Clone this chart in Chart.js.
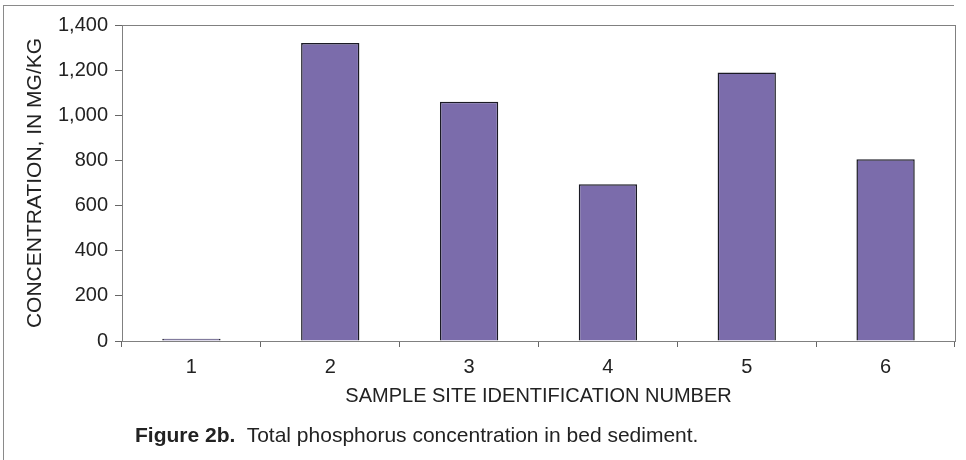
<!DOCTYPE html>
<html>
<head>
<meta charset="utf-8">
<script src="https://cdn.jsdelivr.net/npm/chart.js@4"></script>
<style>
  html, body { margin: 0; padding: 0; background: #fff; }
  #wrap { position: relative; width: 966px; height: 460px; }
  #frame { position: absolute; left: 3px; top: 5px; width: 950px; height: 460px;
           border-left: 1px solid #8a8a8a; border-top: 1px solid #8a8a8a; }
  #cap { position: absolute; left: 135px; top: 423px; font: 21px "Liberation Sans", Arial, sans-serif; color: #222; white-space: pre; }
</style>
</head>
<body>
<div id="wrap">
  <div id="frame"></div>
  <canvas id="c" width="966" height="460"></canvas>
  <div id="cap"><b>Figure 2b.</b>  Total phosphorus concentration in bed sediment.</div>
</div>
<script>
// sample sites and total phosphorus (mg/kg)
const sites = ['1', '2', '3', '4', '5', '6'];
const phosphorus = [10, 1320, 1060, 695, 1190, 805];

const yMin = 0, yMax = 1400, yStep = 200;

// draw the plot frame around chart area
const plotFrame = {
  id: 'plotFrame',
  beforeDatasetsDraw(chart) {
    const a = chart.chartArea, ctx = chart.ctx;
    ctx.save();
    ctx.strokeStyle = '#808080';
    ctx.lineWidth = 1;
    ctx.strokeRect(Math.round(a.left) + 0.5, Math.round(a.top) + 0.5, Math.round(a.right - a.left), Math.round(a.bottom - a.top));
    ctx.restore();
  }
};

Chart.defaults.font.family = '"Liberation Sans", Arial, sans-serif';
Chart.defaults.color = '#222';

new Chart(document.getElementById('c'), {
  type: 'bar',
  data: {
    labels: sites,
    datasets: [{
      data: phosphorus,
      backgroundColor: '#7b6cab',
      borderColor: '#1a1a24',
      borderWidth: 1.5,
      barPercentage: 0.42,
      categoryPercentage: 1
    }]
  },
  options: {
    responsive: false,
    animation: false,
    layout: { padding: { top: 25, right: 11, bottom: 49, left: 0 } },
    plugins: { legend: { display: false }, tooltip: { enabled: false } },
    scales: {
      x: {
        grid: { drawOnChartArea: false, drawTicks: true, tickLength: 6, color: '#666', offset: true },
        border: { display: true, color: '#777' },
        ticks: { font: { size: 20 }, padding: 8, maxRotation: 0 },
        title: { display: true, text: 'SAMPLE SITE IDENTIFICATION NUMBER', font: { size: 20 }, padding: { top: 0, bottom: 3 } },
        afterFit(scale) { scale.height = 70; }
      },
      y: {
        min: yMin, max: yMax,
        grid: { drawOnChartArea: false, drawTicks: true, tickLength: 7, color: '#666' },
        border: { display: true, color: '#777' },
        ticks: {
          stepSize: yStep, font: { size: 20 }, padding: 7,
          callback: v => v.toLocaleString('en-US')
        },
        title: { display: true, text: 'CONCENTRATION, IN MG/KG', font: { size: 21 }, padding: { top: 23, bottom: 0 } },
        afterFit(scale) { scale.width = 122; }
      }
    }
  },
  plugins: [plotFrame]
});
</script>
</body>
</html>
